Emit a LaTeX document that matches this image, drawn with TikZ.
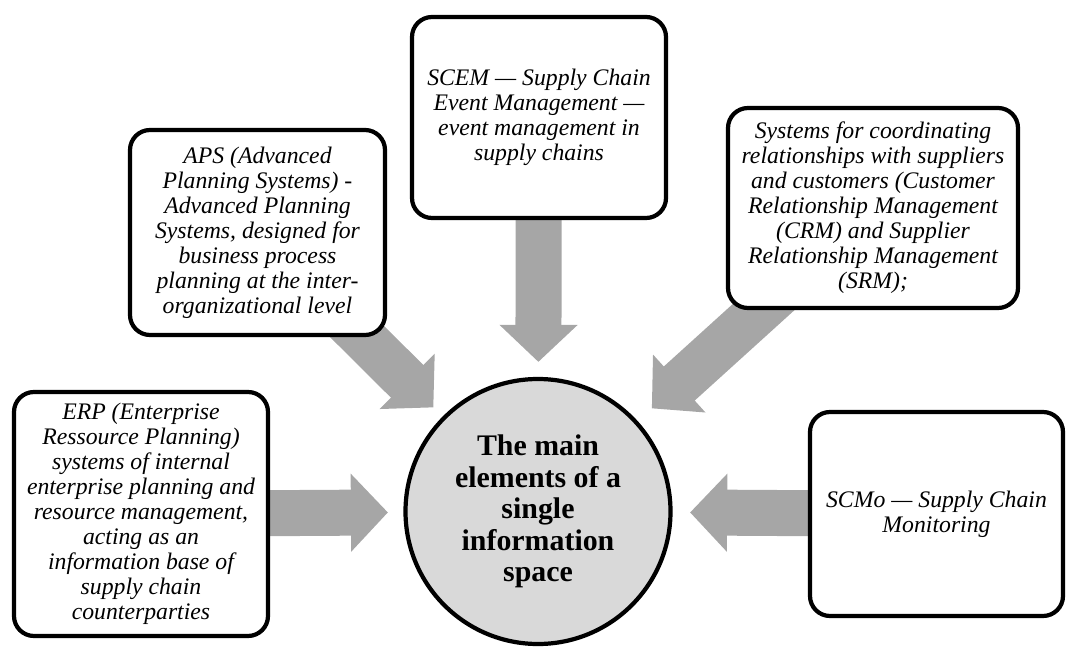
\documentclass[tikz,border=0pt]{standalone}
\usepackage{fontspec}
\setmainfont{Liberation Serif}
\usetikzlibrary{arrows.meta,backgrounds}
\definecolor{flowGray}{HTML}{A6A6A6}
\definecolor{coreGray}{HTML}{D9D9D9}

\begin{document}
\begin{tikzpicture}[
  box/.style={draw, line width=2.4pt, rounded corners=0.4cm, fill=white, align=center,
    inner sep=0pt, font=\itshape\fontsize{13.5}{14.2}\selectfont},
  core/.style={circle, draw, line width=2.4pt, fill=coreGray, align=center, inner sep=0pt,
    minimum size=5.3cm, font=\bfseries\fontsize{17}{18}\selectfont},
  flow/.style={line width=0.92cm, color=flowGray, -{Triangle[width=1.52cm,length=0.74cm]}}]
\useasboundingbox (0,0) rectangle (21.34,12.96);

\node[core]                                     (core) at (10.76,2.73)  {The main\\elements of a\\single\\information\\space};
\node[box, minimum width=5.08cm, minimum height=4.88cm] (erp)  at (2.82,2.68)   {ERP (Enterprise\\Ressource Planning)\\systems of internal\\enterprise planning and\\resource management,\\acting as an\\information base of\\supply chain\\counterparties};
\node[box, minimum width=5.10cm, minimum height=4.10cm] (aps)  at (5.15,8.31)   {APS (Advanced\\Planning Systems) -\\Advanced Planning\\Systems, designed for\\business process\\planning at the inter-\\organizational level};
\node[box, minimum width=5.08cm, minimum height=4.02cm] (scem) at (10.78,10.61) {SCEM --- Supply Chain\\Event Management ---\\event management in\\supply chains};
\node[box, minimum width=5.80cm, minimum height=4.00cm] (srm)  at (17.46,8.80)  {Systems for coordinating\\relationships with suppliers\\and customers (Customer\\Relationship Management\\(CRM) and Supplier\\Relationship Management\\(SRM);};
\node[box, minimum width=5.06cm, minimum height=4.08cm] (scmo) at (18.73,2.68)  {SCMo --- Supply Chain\\Monitoring};

% block arrows into the centre
\begin{scope}[on background layer]
  \draw[flow, shorten >=0.31cm] (erp.center)  -- (core);
  \draw[flow, shorten >=0.26cm] (aps.center)  -- (core);
  \draw[flow, shorten >=0.30cm] (scem.center) -- (core);
  \draw[flow, shorten >=0.38cm] (srm.center)  -- (core);
  \draw[flow, shorten >=0.35cm] (scmo.center) -- (core);
\end{scope}
\end{tikzpicture}
\end{document}
